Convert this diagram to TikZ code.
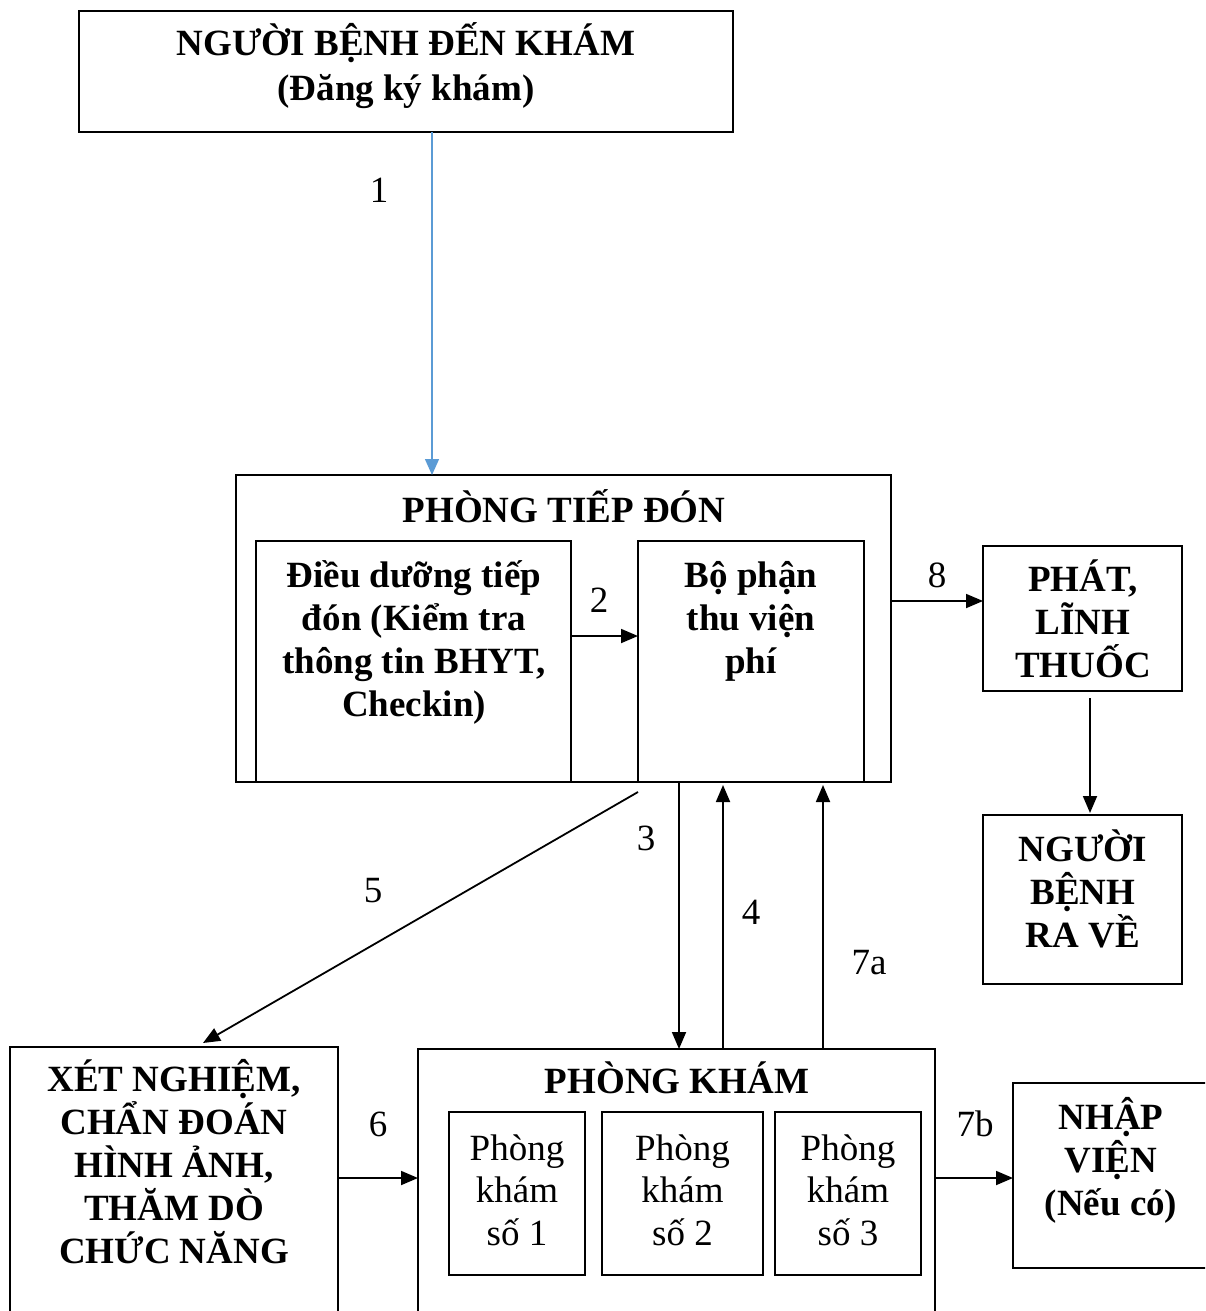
\documentclass[tikz,border=0pt]{standalone}
\usepackage{fontspec}
\setmainfont{Liberation Serif}
\usetikzlibrary{arrows.meta}
\definecolor{arrowblue}{RGB}{91,155,213}
\tikzset{
  box/.style={draw, line width=2.2pt, inner sep=0pt, outer sep=0pt},
  bt/.style={align=center, inner sep=0pt, font=\fontsize{37}{43}\selectfont\bfseries},
  nt/.style={align=center, inner sep=0pt, font=\fontsize{37}{42.5}\selectfont},
  lbl/.style={inner sep=0pt, font=\fontsize{37}{43}\selectfont},
  arr/.style={line width=1.8pt, -{Triangle[length=17pt,width=14pt]}},
  barr/.style={line width=1.4pt, draw=arrowblue, -{Triangle[length=16pt,width=14pt,fill=arrowblue]}}
}
\begin{document}
\begin{tikzpicture}[x=1pt,y=-1pt]
\fill[white] (0,0) rectangle (1205,1311);
\clip (0,0) rectangle (1205,1311);
% boxes
\node[box, minimum width=654pt, minimum height=121pt] (top) at (406,71.5) {};
\node[box, minimum width=655pt, minimum height=307pt] (tiepdon) at (563.5,628.5) {};
\node[box, minimum width=315pt, minimum height=241pt] (dd) at (413.5,661.5) {};
\node[box, minimum width=226pt, minimum height=241pt] (bp) at (751,661.5) {};
\node[box, minimum width=199pt, minimum height=145pt] (phat) at (1082.5,618.5) {};
\node[box, minimum width=199pt, minimum height=169pt] (ve) at (1082.5,899.5) {};
\node[box, minimum width=328pt, minimum height=283pt] (xet) at (174,1188.5) {};
\node[box, minimum width=517pt, minimum height=281pt] (kham) at (676.5,1189.5) {};
\node[box, minimum width=136pt, minimum height=163pt] (k1) at (517,1193.5) {};
\node[box, minimum width=161pt, minimum height=163pt] (k2) at (682.5,1193.5) {};
\node[box, minimum width=146pt, minimum height=163pt] (k3) at (848,1193.5) {};
\node[box, minimum width=202pt, minimum height=185pt] (nhap) at (1114,1175.5) {};
% texts
\node[bt, font=\fontsize{37}{45}\selectfont\bfseries] (topT) at (406,65.5) {NGƯỜI BỆNH ĐẾN KHÁM\\(Đăng ký khám)};
\node[bt] (tiepdonT) at (564,506) {PHÒNG TIẾP ĐÓN};
\node[bt] (ddT) at (414,642) {Điều dưỡng tiếp\\đón (Kiểm tra\\thông tin BHYT,\\Checkin)};
\node[bt] (bpT) at (751,621) {Bộ phận\\thu viện\\phí};
\node[bt] (phatT) at (1083,619) {PHÁT,\\LĨNH\\THUỐC};
\node[bt] (veT) at (1083,889) {NGƯỜI\\BỆNH\\RA VỀ};
\node[bt] (xetT) at (174,1162) {XÉT NGHIỆM,\\CHẨN ĐOÁN\\HÌNH ẢNH,\\THĂM DÒ\\CHỨC NĂNG};
\node[bt] (khamT) at (677,1077.5) {PHÒNG KHÁM};
\node[nt] (k1T) at (517,1190) {Phòng\\khám\\số 1};
\node[nt] (k2T) at (682.5,1190) {Phòng\\khám\\số 2};
\node[nt] (k3T) at (848,1190) {Phòng\\khám\\số 3};
\node[bt] (nhapT) at (1111,1160.5) {NHẬP\\VIỆN\\(Nếu có)};
% helper levels
\coordinate (y2) at (0,636);
\coordinate (y8) at (0,601);
\coordinate (y6) at (0,1178);
\coordinate (x1) at (432,0);
\coordinate (x3) at (679,0);
\coordinate (x4) at (723,0);
\coordinate (x7) at (823,0);
\coordinate (xv) at (1090,0);
% connectors
\draw[barr] (top.south -| x1) -- (tiepdon.north -| x1);
\draw[arr] (dd.east |- y2) -- (bp.west |- y2);
\draw[arr] (tiepdon.east |- y8) -- (phat.west |- y8);
\draw[arr, shorten <=7pt, shorten >=2pt] (phat.south -| xv) -- (ve.north -| xv);
\draw[arr] ([yshift=-10pt]bp.south west) -- ([xshift=29pt,yshift=4pt]xet.north);
\draw[arr] (tiepdon.south -| x3) -- (kham.north -| x3);
\draw[arr, shorten >=3pt] (kham.north -| x4) -- (tiepdon.south -| x4);
\draw[arr, shorten >=3pt] (kham.north -| x7) -- (tiepdon.south -| x7);
\draw[arr] (xet.east |- y6) -- (kham.west |- y6);
\draw[arr] (kham.east |- y6) -- (nhap.west |- y6);
% labels
\node[lbl] (l1) at (379,190) {1};
\node[lbl] (l2) at (599,600) {2};
\node[lbl] (l8) at (937,575) {8};
\node[lbl] (l3) at (646,838) {3};
\node[lbl] (l4) at (751,912) {4};
\node[lbl] (l5) at (373,891) {5};
\node[lbl] (l7a) at (869,963) {7a};
\node[lbl] (l6) at (378,1124) {6};
\node[lbl] (l7b) at (975,1124) {7b};
\end{tikzpicture}
\end{document}
